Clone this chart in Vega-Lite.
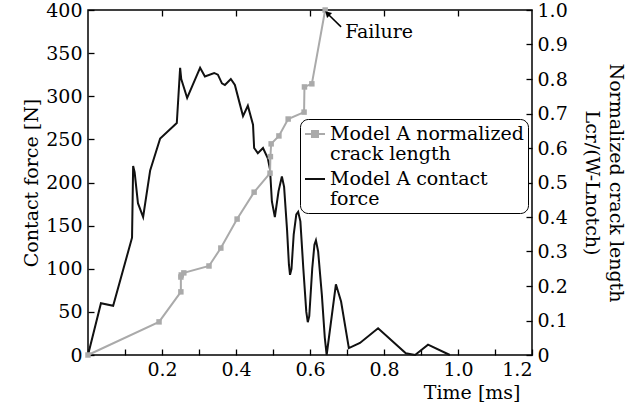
{
  "$schema": "https://vega.github.io/schema/vega-lite/v6.json",
  "width": 444,
  "height": 345,
  "autosize": {"type": "none"},
  "padding": {"left": 88, "top": 10, "right": 109, "bottom": 60},
  "background": "white",
  "config": {
    "font": "DejaVu Serif",
    "view": {"stroke": "black", "strokeWidth": 1.5},
    "axis": {
      "grid": false,
      "domain": false,
      "tickColor": "black",
      "tickWidth": 1.3,
      "tickSize": 6,
      "offset": -6,
      "labelOverlap": false,
      "labelFont": "DejaVu Serif",
      "labelFontSize": 19,
      "labelColor": "black",
      "titleFont": "DejaVu Serif",
      "titleFontSize": 19,
      "titleFontWeight": "normal",
      "titleColor": "black"
    }
  },
  "datasets": {
    "force": [
      {"t": 0, "F": 0}, {"t": 0.035, "F": 60}, {"t": 0.068, "F": 57}, {"t": 0.119, "F": 136},
      {"t": 0.122, "F": 219}, {"t": 0.126, "F": 212}, {"t": 0.135, "F": 176}, {"t": 0.149, "F": 160},
      {"t": 0.168, "F": 214}, {"t": 0.195, "F": 251}, {"t": 0.240, "F": 269}, {"t": 0.249, "F": 333},
      {"t": 0.252, "F": 320}, {"t": 0.268, "F": 298}, {"t": 0.295, "F": 325}, {"t": 0.303, "F": 333},
      {"t": 0.316, "F": 323}, {"t": 0.341, "F": 327}, {"t": 0.351, "F": 325}, {"t": 0.362, "F": 315},
      {"t": 0.370, "F": 313}, {"t": 0.386, "F": 320}, {"t": 0.397, "F": 313}, {"t": 0.411, "F": 290},
      {"t": 0.419, "F": 277}, {"t": 0.432, "F": 289}, {"t": 0.446, "F": 267}, {"t": 0.449, "F": 240},
      {"t": 0.459, "F": 234}, {"t": 0.473, "F": 240}, {"t": 0.486, "F": 228}, {"t": 0.492, "F": 215},
      {"t": 0.497, "F": 178}, {"t": 0.505, "F": 160}, {"t": 0.515, "F": 190}, {"t": 0.524, "F": 207},
      {"t": 0.530, "F": 195}, {"t": 0.538, "F": 145}, {"t": 0.543, "F": 105}, {"t": 0.546, "F": 93},
      {"t": 0.550, "F": 100}, {"t": 0.556, "F": 140}, {"t": 0.563, "F": 163}, {"t": 0.568, "F": 166},
      {"t": 0.574, "F": 155}, {"t": 0.582, "F": 100}, {"t": 0.590, "F": 50}, {"t": 0.594, "F": 38},
      {"t": 0.598, "F": 45}, {"t": 0.606, "F": 100}, {"t": 0.612, "F": 128}, {"t": 0.616, "F": 133},
      {"t": 0.622, "F": 120}, {"t": 0.632, "F": 70}, {"t": 0.640, "F": 20}, {"t": 0.645, "F": 0},
      {"t": 0.670, "F": 82}, {"t": 0.684, "F": 62}, {"t": 0.705, "F": 8}, {"t": 0.735, "F": 14},
      {"t": 0.784, "F": 31}, {"t": 0.859, "F": 2}, {"t": 0.884, "F": 0}, {"t": 0.919, "F": 12},
      {"t": 0.978, "F": 0}
    ],
    "crack": [
      {"t": 0, "L": 0}, {"t": 0.192, "L": 0.096}, {"t": 0.251, "L": 0.183}, {"t": 0.251, "L": 0.226},
      {"t": 0.252, "L": 0.232}, {"t": 0.259, "L": 0.238}, {"t": 0.327, "L": 0.258}, {"t": 0.359, "L": 0.31},
      {"t": 0.403, "L": 0.394}, {"t": 0.449, "L": 0.472}, {"t": 0.492, "L": 0.527}, {"t": 0.493, "L": 0.575},
      {"t": 0.495, "L": 0.612}, {"t": 0.516, "L": 0.635}, {"t": 0.541, "L": 0.684}, {"t": 0.584, "L": 0.704},
      {"t": 0.585, "L": 0.777}, {"t": 0.605, "L": 0.786}, {"t": 0.641, "L": 1.0}
    ],
    "note": [{"t": 0.695, "L": 0.936, "label": "Failure", "t2": 0.684, "L2": 0.951, "t3": 0.647, "L3": 0.99}]
  },
  "layer": [
    {
      "data": {"name": "force"},
      "mark": {"type": "line", "strokeWidth": 2},
      "encoding": {
        "x": {
          "field": "t", "type": "quantitative",
          "scale": {"domain": [0, 1.2], "nice": false},
          "axis": {
            "orient": "bottom", "title": "Time  [ms]",
            "values": [0, 0.1, 0.2, 0.3, 0.4, 0.5, 0.6, 0.7, 0.8, 0.9, 1.0, 1.1, 1.2],
            "labelExpr": "(round(datum.value*10) % 2 == 0 && datum.value > 0) ? format(datum.value, '.1f') : ''",
            "labelPadding": 5, "labelOverlap": false,
            "titleAnchor": "end", "titleX": 432, "titleAlign": "right", "titlePadding": 4
          }
        },
        "y": {
          "field": "F", "type": "quantitative",
          "scale": {"domain": [0, 400], "nice": false},
          "axis": {
            "orient": "left", "title": "Contact force  [N]",
            "values": [0, 50, 100, 150, 200, 250, 300, 350, 400],
            "labelPadding": 6, "titlePadding": 4, "labelOverlap": false
          }
        },
        "color": {
          "datum": "force", "type": "nominal",
          "scale": {"domain": ["crack", "force"], "range": ["#aaaaaa", "#111111"]},
          "legend": {
            "orient": "none", "legendX": 212, "legendY": 109, "title": null,
            "labelExpr": "datum.value == 'crack' ? ['Model A normalized', 'crack length'] : ['Model A contact', 'force']",
            "labelFont": "DejaVu Serif", "labelFontSize": 19, "labelColor": "black", "labelLimit": 400,
            "labelOffset": 4,
            "strokeColor": "black", "fillColor": "white", "cornerRadius": 8, "padding": 4,
            "symbolSize": 400, "symbolStrokeWidth": 2, "rowPadding": 4,
            "encode": {
              "labels": {"update": {"lineHeight": {"value": 20}}},
              "symbols": {
                "update": {
                  "shape": {"signal": "datum.value == 'crack' ? 'M-1,0H1M-0.3,-0.3H0.3V0.3H-0.3Z' : 'M-1,0H1'"},
                  "fill": {"signal": "datum.value == 'crack' ? '#aaaaaa' : 'transparent'"},
                  "stroke": {"signal": "datum.value == 'crack' ? '#aaaaaa' : '#111111'"}
                }
              }
            }
          }
        }
      }
    },
    {
      "layer": [
        {
          "data": {"name": "crack"},
          "mark": {"type": "line", "strokeWidth": 2, "point": {"shape": "square", "size": 30, "filled": true}},
          "encoding": {
            "x": {
              "field": "t", "type": "quantitative",
              "axis": {"orient": "top", "title": null, "labels": false, "values": [0.2, 0.4, 0.6, 0.8, 1.0]}
            },
            "y": {
              "field": "L", "type": "quantitative",
              "scale": {"domain": [0, 1], "nice": false},
              "axis": {
                "orient": "right",
                "title": ["Normalized crack length", "Lcr/(W-Lnotch)"],
                "values": [0, 0.1, 0.2, 0.3, 0.4, 0.5, 0.6, 0.7, 0.8, 0.9, 1.0],
                "labelExpr": "datum.value == 0 ? '0' : format(datum.value, '.1f')",
                "labelOverlap": false, "labelBound": false,
                "labelPadding": 5, "titlePadding": 14, "titleLineHeight": 24
              }
            },
            "color": {"datum": "crack", "type": "nominal"}
          }
        },
        {
          "data": {"name": "note"},
          "mark": {"type": "text", "align": "left", "baseline": "middle", "fontSize": 19, "font": "DejaVu Serif", "color": "black"},
          "encoding": {
            "x": {
              "field": "t", "type": "quantitative",
              "axis": {"orient": "top", "title": null, "labels": false, "values": [0.2, 0.4, 0.6, 0.8, 1.0]}
            },
            "y": {
              "field": "L", "type": "quantitative",
              "axis": {
                "orient": "right",
                "title": ["Normalized crack length", "Lcr/(W-Lnotch)"],
                "values": [0, 0.1, 0.2, 0.3, 0.4, 0.5, 0.6, 0.7, 0.8, 0.9, 1.0],
                "labelExpr": "datum.value == 0 ? '0' : format(datum.value, '.1f')",
                "labelOverlap": false, "labelBound": false,
                "labelPadding": 5, "titlePadding": 14, "titleLineHeight": 24
              }
            },
            "text": {"field": "label"}
          }
        },
        {
          "data": {"name": "note"},
          "mark": {"type": "rule", "color": "black", "strokeWidth": 1.5},
          "encoding": {
            "x": {
              "field": "t2", "type": "quantitative",
              "axis": {"orient": "top", "title": null, "labels": false, "values": [0.2, 0.4, 0.6, 0.8, 1.0]}
            },
            "y": {
              "field": "L2", "type": "quantitative",
              "axis": {
                "orient": "right",
                "title": ["Normalized crack length", "Lcr/(W-Lnotch)"],
                "values": [0, 0.1, 0.2, 0.3, 0.4, 0.5, 0.6, 0.7, 0.8, 0.9, 1.0],
                "labelExpr": "datum.value == 0 ? '0' : format(datum.value, '.1f')",
                "labelOverlap": false, "labelBound": false,
                "labelPadding": 5, "titlePadding": 14, "titleLineHeight": 24
              }
            },
            "x2": {"field": "t3"},
            "y2": {"field": "L3"}
          }
        },
        {
          "data": {"name": "note"},
          "mark": {"type": "point", "shape": "triangle-up", "filled": true, "color": "black", "size": 50, "angle": -45, "opacity": 1},
          "encoding": {
            "x": {
              "field": "t3", "type": "quantitative",
              "axis": {"orient": "top", "title": null, "labels": false, "values": [0.2, 0.4, 0.6, 0.8, 1.0]}
            },
            "y": {
              "field": "L3", "type": "quantitative",
              "axis": {
                "orient": "right",
                "title": ["Normalized crack length", "Lcr/(W-Lnotch)"],
                "values": [0, 0.1, 0.2, 0.3, 0.4, 0.5, 0.6, 0.7, 0.8, 0.9, 1.0],
                "labelExpr": "datum.value == 0 ? '0' : format(datum.value, '.1f')",
                "labelOverlap": false, "labelBound": false,
                "labelPadding": 5, "titlePadding": 14, "titleLineHeight": 24
              }
            }
          }
        }
      ]
    }
  ],
  "resolve": {"scale": {"y": "independent"}, "axis": {"x": "independent"}}
}
